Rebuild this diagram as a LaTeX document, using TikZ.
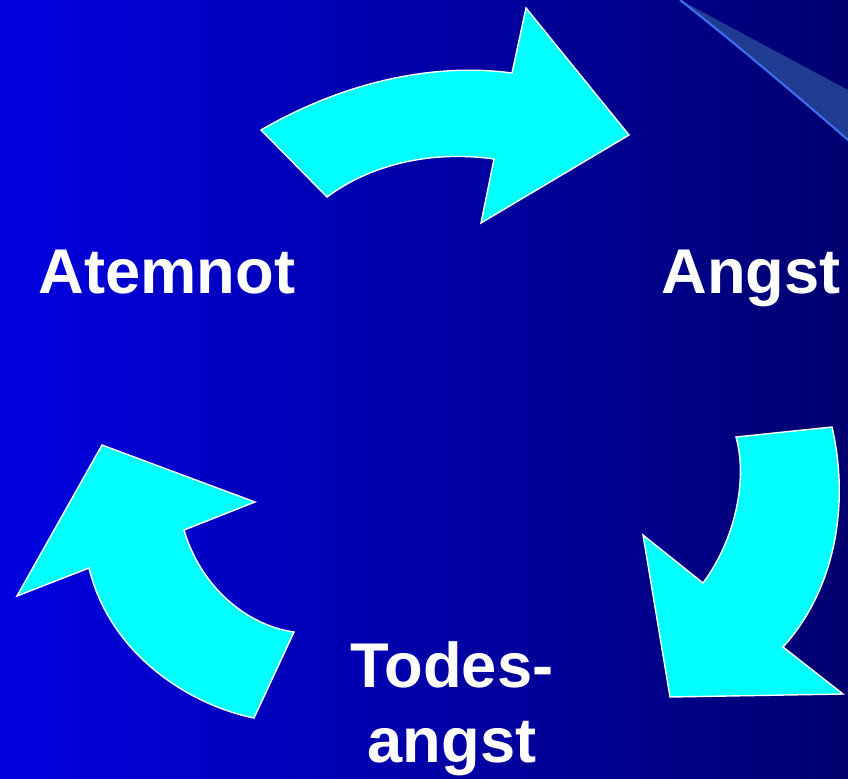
\documentclass[tikz,border=0pt]{standalone}
\usepackage{fontspec}
\setmainfont{Liberation Sans}
\definecolor{bgleft}{RGB}{0,0,224}
\definecolor{bgright}{RGB}{0,0,112}
\definecolor{pfeilcyan}{RGB}{0,255,255}
\definecolor{bogenfill}{RGB}{32,60,146}
\definecolor{bogenline}{RGB}{62,110,240}

\begin{document}
\begin{tikzpicture}[x=0.02cm, y=-0.02cm,
    pfeil/.style={fill=pfeilcyan, draw=white, line width=0.8pt},
    wort/.style={text=white, inner sep=0pt,
        font=\bfseries\fontsize{36}{42.5}\selectfont}]
    \shade[left color=bgleft, right color=bgright] (0, 0) rectangle (848, 778);
    \useasboundingbox (0, 0) rectangle (848, 778);
    \clip (0, 0) rectangle (848, 778);
    % Bogen oben rechts
    \fill[bogenfill]
        (680, 0) -- (848, 90) -- (848, 140)
        .. controls (800, 98) and (725, 35) .. (680, 0) -- cycle;
    \draw[bogenline, line width=1.2pt]
        (680, 0) .. controls (725, 35) and (800, 98) .. (848, 140);
    % Pfeile
    \draw[pfeil]
        (261, 130) .. controls (340, 84) and (430, 62) .. (512, 73)
        -- (526, 8) -- (629, 135) -- (481, 223) -- (494, 159)
        .. controls (430, 150) and (370, 165) .. (327, 197)
        -- cycle;
    \draw[pfeil]
        (832, 427) .. controls (850, 505) and (835, 590) .. (783, 647)
        -- (843, 694) -- (670, 697) -- (643, 535) -- (703, 583)
        .. controls (735, 540) and (748, 480) .. (736, 437)
        -- cycle;
    \draw[pfeil]
        (254, 718) .. controls (190, 705) and (110, 655) .. (89, 568)
        -- (17, 596) -- (102, 445) -- (255, 502) -- (184, 530)
        .. controls (200, 585) and (245, 625) .. (294, 632)
        -- cycle;
    % Texte
    \node[wort, anchor=base] (atemnot) at (167, 293) {Atemnot};
    \node[wort, anchor=base] (angst) at (751, 293) {Angst};
    \node[wort, anchor=base, align=center] (todesangst) at (452, 762) {Todes-\\angst};
\end{tikzpicture}
\end{document}
